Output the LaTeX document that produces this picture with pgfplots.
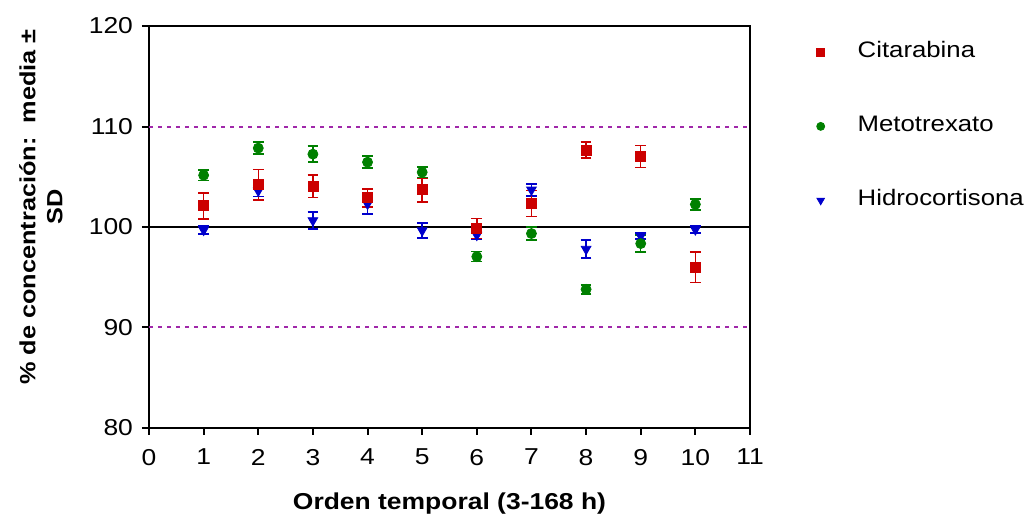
\documentclass[border=0pt]{standalone}
\usepackage{fontspec}
\setmainfont{Liberation Sans}[FakeStretch=1.15]
\usepackage{pgfplots}
\pgfplotsset{compat=1.18}

\definecolor{citared}{RGB}{204,0,0}
\definecolor{metogreen}{RGB}{0,128,0}
\definecolor{hidroblue}{RGB}{0,0,204}
\definecolor{limitpurple}{RGB}{160,40,170}

% x, mean, SD
\pgfplotstableread{
x  y       e
1  102.10  1.30
2  104.20  1.50
3  104.05  1.10
4  102.90  0.90
5  103.70  1.20
6   99.85  1.00
7  102.35  1.30
8  107.65  0.80
9  107.00  1.10
10  96.00  1.50
}\citarabina

\pgfplotstableread{
x  y       e
1  105.15  0.50
2  107.85  0.60
3  107.25  0.80
4  106.45  0.60
5  105.45  0.50
6   97.05  0.50
7   99.35  0.65
8   93.80  0.45
9   98.35  0.85
10 102.25  0.55
}\metotrexato

\pgfplotstableread{
x  y       e
1   99.70  0.40
2  103.60  0.55
3  100.65  0.85
4  102.30  1.00
5   99.65  0.75
6   99.20  0.45
7  103.70  0.60
8   97.80  0.90
9   99.10  0.30
10  99.75  0.35
}\hidrocortisona

\pgfplotsset{
  sd bars/.style={
    error bars/.cd, y dir=both, y explicit, error mark=-,
    error bar style={line width=0.75pt},
    error mark options={rotate=90, line width=0.75pt, mark size=2.7pt},
    /pgfplots/.cd}}

\begin{document}
\begin{tikzpicture}
\begin{axis}[
  scale only axis,
  width=300.5pt, height=201pt,
  xmin=0, xmax=11, ymin=80, ymax=120,
  xtick={0,1,...,11}, ytick={80,90,...,120},
  tick pos=left, tick align=outside,
  major tick length=3.5pt,
  axis line style={line width=1pt},
  every tick/.style={black, line width=1pt},
  /pgf/number format/assume math mode=true,
  tick label style={font=\fontsize{11.5}{14}\selectfont},
  xticklabel style={yshift=-3.5pt},
  yticklabel style={xshift=-1pt},
  xlabel={Orden temporal (3-168 h)},
  ylabel={\% de concentración:\ \ media ±\\SD},
  xlabel style={font=\bfseries\fontsize{11.5}{14}\selectfont,
    at={(axis description cs:0.5,-0.187)}, anchor=center},
  ylabel style={font=\bfseries\fontsize{11}{13.5}\selectfont, align=center,
    at={(axis description cs:-0.18,0.55)}, anchor=center, rotate=0},
  legend style={draw=none, fill=none, inner sep=0pt, outer sep=0pt,
    at={(axis description cs:1.111,0.963)}, anchor=north west,
    font=\fontsize{11.2}{14}\selectfont,
    row sep=25.5pt, column sep=16.5pt,
    nodes={inner sep=0pt, text height=8.5pt, text depth=3pt}},
  legend cell align=left,
  clip=false,
]
% reference band: 100 % and the 90-110 % limits
\addplot[black, line width=1pt, forget plot] coordinates {(0,100) (11,100)};
\addplot[limitpurple, line width=1pt, dash pattern=on 2pt off 2.5pt, forget plot]
  coordinates {(0,110) (11,110)};
\addplot[limitpurple, line width=1pt, dash pattern=on 2pt off 2.5pt, forget plot]
  coordinates {(0,90) (11,90)};

\addplot[forget plot, only marks, hidroblue, mark=triangle*, mark size=2.8pt,
  mark options={rotate=180}, sd bars]
  table[x=x, y=y, y error=e] {\hidrocortisona};
\addplot[forget plot, only marks, citared, mark=square*, mark size=2.5pt, sd bars]
  table[x=x, y=y, y error=e] {\citarabina};
\addplot[forget plot, only marks, metogreen, mark=*, mark size=2.5pt, sd bars]
  table[x=x, y=y, y error=e] {\metotrexato};

\addlegendimage{only marks, citared, mark=square*, mark size=2pt}
\addlegendentry{Citarabina}
\addlegendimage{only marks, metogreen, mark=*, mark size=2pt}
\addlegendentry{Metotrexato}
\addlegendimage{only marks, hidroblue, mark=triangle*, mark size=2.2pt, mark options={rotate=180}}
\addlegendentry{Hidrocortisona}
\end{axis}
\pgfresetboundingbox
\useasboundingbox (-74.5pt,-45pt) rectangle (439pt,214pt);
\end{tikzpicture}
\end{document}
